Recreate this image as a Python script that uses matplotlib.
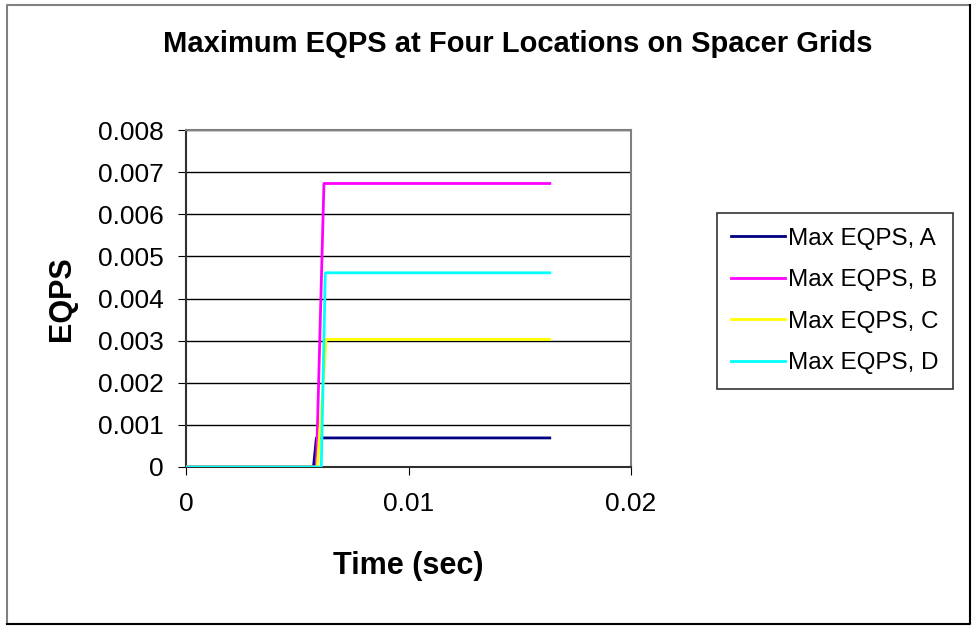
import matplotlib
matplotlib.use("Agg")
import matplotlib.pyplot as plt
from matplotlib.lines import Line2D

plt.rcParams['font.family'] = ['Liberation Sans', 'DejaVu Sans']

W, H = 973, 626

# time histories
t_a = [0, 0.00573, 0.00586, 0.01635]
eqps_a = [0, 0, 0.00069, 0.00069]
t_b = [0, 0.00586, 0.0062, 0.01635]
eqps_b = [0, 0, 0.00673, 0.00673]
t_c = [0, 0.0059, 0.0063, 0.01635]
eqps_c = [0, 0, 0.00303, 0.00303]
t_d = [0, 0.00608, 0.00626, 0.01635]
eqps_d = [0, 0, 0.00461, 0.00461]

labels = ['Max EQPS, A', 'Max EQPS, B', 'Max EQPS, C', 'Max EQPS, D']
colors = ['#000080', '#FF00FF', '#FFFF00', '#00FFFF']

fig = plt.figure(figsize=(W/100, H/100), dpi=100)
ax = fig.add_axes([186/W, 1-467/H, (631-186)/W, (467-130)/H])

for t, y, lab, c in zip([t_a, t_b, t_c, t_d], [eqps_a, eqps_b, eqps_c, eqps_d], labels, colors):
    ax.plot(t, y, color=c, lw=2, label=lab, zorder=3)

ax.set_xlim(0, 0.02)
ax.set_ylim(0, 0.008)
ax.set_xticks([0, 0.01, 0.02])
ax.set_xticklabels(['0', '0.01', '0.02'])
ax.set_yticks([i*0.001 for i in range(9)])
ax.set_yticklabels(['0'] + ['%.3f' % (i*0.001) for i in range(1, 9)])
ax.tick_params(labelsize=19, direction='out', length=6, color='black')
ax.tick_params(axis='y', pad=10)
ax.tick_params(axis='x', pad=12)
ax.grid(axis='y', color='black', lw=1)
for s in ax.spines.values():
    s.set_color('#808080')
    s.set_linewidth(1.5)
ax.spines['left'].set_color('#303030')
ax.spines['bottom'].set_color('#303030')

ax.set_xlabel('Time (sec)', fontsize=22, fontweight='bold', labelpad=25)
ax.set_ylabel('EQPS', fontsize=22, fontweight='bold', labelpad=15)
fig.text(518/W, 1-44/H, 'Maximum EQPS at Four Locations on Spacer Grids',
         fontsize=21, fontweight='bold', ha='center', va='center')

leg = fig.legend(loc='center', bbox_to_anchor=(835/W, 1-301/H), fontsize=17.5,
                 frameon=True, fancybox=False, edgecolor='black', handlelength=2.2,
                 handletextpad=0.15, labelspacing=0.8, borderpad=0.6, borderaxespad=0)
leg.get_frame().set_linewidth(1.2)

# chart area border: gray on top/left, dark on right/bottom
x0, x1, y0, y1 = 7/W, 970/W, 1-5/H, 1-624/H
fig.add_artist(Line2D([x0, x0, x1], [y1, y0, y0], transform=fig.transFigure, color='#808080', lw=1.5))
fig.add_artist(Line2D([x0, x1, x1], [y1, y1, y0], transform=fig.transFigure, color='black', lw=1.5))

fig.savefig('out.png', dpi=100)
